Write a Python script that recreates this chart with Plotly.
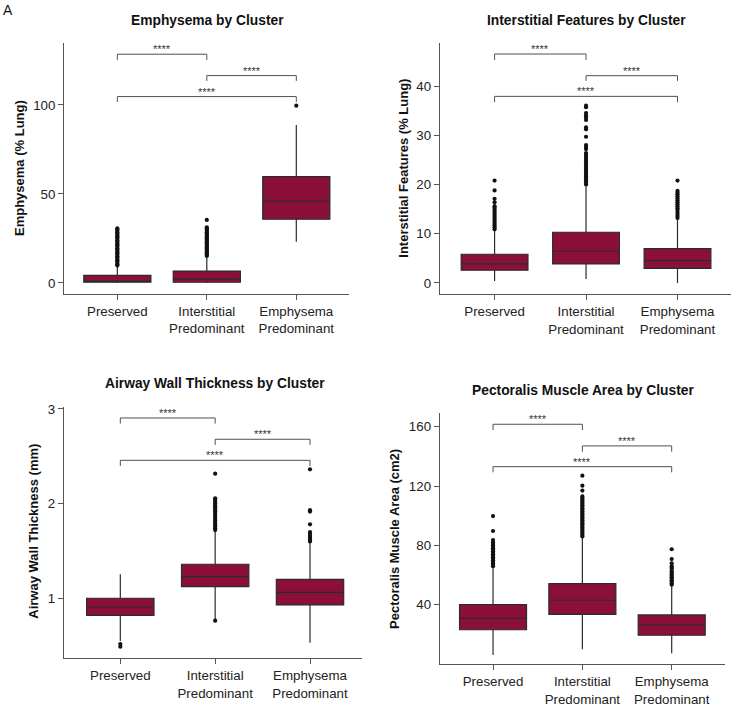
import plotly.graph_objects as go

# ---------------- data ----------------
categories = ["Preserved", "Interstitial<br>Predominant", "Emphysema<br>Predominant"]

titles = ["Emphysema by Cluster", "Interstitial Features by Cluster",
          "Airway Wall Thickness by Cluster", "Pectoralis Muscle Area by Cluster"]
ylabels = ["Emphysema (% Lung)", "Interstitial Features (% Lung)",
           "Airway Wall Thickness (mm)", "Pectoralis Muscle Area (cm2)"]

# Emphysema
emph_q1 = [0.4, 0.4, 35.8]
emph_med = [1.0, 2.1, 46.0]
emph_q3 = [4.3, 6.7, 59.7]
emph_lo = [0.0, 0.0, 23.2]
emph_hi = [9.3, 14.5, 88.8]
emph_out_pres = [9.8, 10.5, 11.2, 12.0, 12.8, 13.5, 14.3, 15.0, 15.8, 16.5, 17.3, 18.0,
                 18.8, 19.5, 20.3, 21.0, 21.8, 22.5, 23.3, 24.0, 24.8, 25.5, 26.3, 27.0,
                 27.8, 28.5, 29.3, 30.0, 30.7]
emph_out_int = [15.2, 15.9, 16.6, 17.3, 18.0, 18.7, 19.4, 20.1, 20.8, 21.5, 22.2, 22.9,
                23.6, 24.3, 25.0, 25.7, 26.4, 27.1, 27.8, 28.5, 29.2, 29.9, 30.6, 31.3, 35.4]
emph_out_emph = [99.6]

# Interstitial features
ild_q1 = [2.58, 3.86, 2.98]
ild_med = [3.86, 6.44, 4.53]
ild_q3 = [5.83, 10.3, 6.97]
ild_lo = [0.4, 0.8, 0.0]
ild_hi = [10.7, 19.8, 13.0]
ild_out_pres = [10.9, 11.3, 11.7, 12.1, 12.5, 12.9, 13.3, 13.7, 14.1, 14.5, 14.9, 15.3,
                15.6, 16.4, 17.1, 18.8, 20.8]
ild_out_int = [20.0, 20.4, 20.8, 21.2, 21.6, 22.0, 22.4, 22.8, 23.2, 23.6, 24.0, 24.4,
               24.8, 25.2, 25.6, 26.0, 26.4, 27.2, 27.6, 28.0, 29.7, 31.2, 31.6, 33.1,
               33.6, 34.0, 34.5, 35.7, 36.0]
ild_out_emph = [13.2, 13.6, 14.0, 14.4, 14.8, 15.2, 15.6, 16.0, 16.4, 16.8, 17.2, 17.6,
                18.0, 18.3, 18.7, 20.8]

# Airway wall thickness
awt_q1 = [0.82, 1.122, 0.93]
awt_med = [0.908, 1.228, 1.063]
awt_q3 = [1.0, 1.359, 1.20]
awt_lo = [0.55, 0.78, 0.531]
awt_hi = [1.253, 1.70, 1.59]
awt_out_pres = [0.489, 0.517]
awt_out_int = [0.763, 1.72, 1.74, 1.76, 1.78, 1.80, 1.82, 1.84, 1.86, 1.88, 1.90, 1.92,
               1.94, 1.96, 1.98, 2.00, 2.02, 2.04, 2.056, 2.316]
awt_out_emph = [1.60, 1.62, 1.64, 1.66, 1.68, 1.70, 1.781, 1.915, 1.93, 2.362]

# Pectoralis muscle area
pma_q1 = [23.1, 33.5, 19.4]
pma_med = [30.8, 43.0, 26.3]
pma_q3 = [40.0, 54.2, 33.1]
pma_lo = [6.1, 9.9, 7.2]
pma_hi = [65.0, 85.0, 52.5]
pma_out_pres = [66, 67, 68, 69, 70, 71, 72, 73, 74, 75, 76, 77, 78, 79, 80, 81, 82,
                83.6, 89.7, 99.8]
pma_out_int = [86, 87, 88, 89, 90, 91, 92, 93, 94, 95, 96, 97, 98, 99, 100, 101, 102,
               103, 104, 105, 106, 107, 108, 109, 110, 111, 112, 113, 117, 120.3, 127]
pma_out_emph = [53.5, 54.5, 55.5, 56.5, 57.5, 58.5, 59.5, 60.5, 61.5, 62.5, 64, 65, 66,
                67.9, 70.8, 77.4]

# significance brackets: pairs (0-1, 1-2, 0-2), bar height and tick end
pairs = [(0, 1), (1, 2), (0, 2)]
sig_label = "****"
emph_bar = [128.5, 116.5, 104.7]
emph_end = [125.3, 113.5, 101.7]
ild_bar = [46.5, 42.1, 37.9]
ild_end = [45.3, 41.05, 36.7]
awt_bar = [2.904, 2.679, 2.457]
awt_end = [2.844, 2.619, 2.397]
pma_bar = [161.7, 147.1, 133.1]
pma_end = [157.8, 143.2, 129.3]

# y axes
emph_ticks = [0, 50, 100]
ild_ticks = [0, 10, 20, 30, 40]
awt_ticks = [1, 2, 3]
pma_ticks = [40, 80, 120, 160]

# ---------------- styling / layout ----------------
W, H = 732, 706
FONT = "Liberation Sans, Arial, Helvetica, sans-serif"
FILL = "#8a1038"
LINE = "#2b2b2b"
AXC = "#555555"

panels = [
    dict(q1=emph_q1, med=emph_med, q3=emph_q3, lo=emph_lo, hi=emph_hi,
         outs=[emph_out_pres, emph_out_int, emph_out_emph], bar=emph_bar, end=emph_end,
         ticks=emph_ticks, yr=[-6.2, 134.8], xr=[-0.596, 2.589], bw=0.75,
         px=(64, 349), py=(43, 294), title_xy=(207, 20), ylab_xy=(19, 168)),
    dict(q1=ild_q1, med=ild_med, q3=ild_q3, lo=ild_lo, hi=ild_hi,
         outs=[ild_out_pres, ild_out_int, ild_out_emph], bar=ild_bar, end=ild_end,
         ticks=ild_ticks, yr=[-2.3, 48.8], xr=[-0.6, 2.585], bw=0.73,
         px=(439.7, 731), py=(42.7, 294.3), title_xy=(586, 20), ylab_xy=(402.7, 168)),
    dict(q1=awt_q1, med=awt_med, q3=awt_q3, lo=awt_lo, hi=awt_hi,
         outs=[awt_out_pres, awt_out_int, awt_out_emph], bar=awt_bar, end=awt_end,
         ticks=awt_ticks, yr=[0.366, 3.023], xr=[-0.597, 2.545], bw=0.71,
         px=(63.7, 361.7), py=(406.7, 658.3), title_xy=(215.3, 383.3), ylab_xy=(34, 531.7)),
    dict(q1=pma_q1, med=pma_med, q3=pma_q3, lo=pma_lo, hi=pma_hi,
         outs=[pma_out_pres, pma_out_int, pma_out_emph], bar=pma_bar, end=pma_end,
         ticks=pma_ticks, yr=[-0.2, 169.5], xr=[-0.597, 2.6], bw=0.75,
         px=(439.7, 725.3), py=(412.7, 664.3), title_xy=(582.7, 390), ylab_xy=(394, 539)),
]

fig = go.Figure()
annotations = []
layout = {}

for i, p in enumerate(panels):
    n = "" if i == 0 else str(i + 1)
    xa, ya = "x" + n, "y" + n
    fig.add_trace(go.Box(
        x=categories, q1=p["q1"], median=p["med"], q3=p["q3"],
        lowerfence=p["lo"], upperfence=p["hi"], width=p["bw"],
        fillcolor=FILL, line=dict(color=LINE, width=1.2), whiskerwidth=0,
        boxpoints=False, showlegend=False, hoverinfo="skip",
        xaxis=xa, yaxis=ya))
    for c, vals in zip(categories, p["outs"]):
        fig.add_trace(go.Scatter(
            x=[c] * len(vals), y=vals, mode="markers",
            marker=dict(color="#111111", size=4.2), showlegend=False,
            hoverinfo="skip", xaxis=xa, yaxis=ya))
    for (a, b), yb, ye in zip(pairs, p["bar"], p["end"]):
        fig.add_trace(go.Scatter(
            x=[categories[a], categories[a], categories[b], categories[b]],
            y=[ye, yb, yb, ye], mode="lines",
            line=dict(color="#505050", width=1), showlegend=False,
            hoverinfo="skip", xaxis=xa, yaxis=ya))
        annotations.append(dict(
            x=(a + b) / 2, y=yb, xref=xa, yref=ya, text=sig_label, showarrow=False,
            yanchor="bottom", yshift=-3, font=dict(family=FONT, size=11, color="#333333")))

    x0, x1 = p["px"]
    y0, y1 = p["py"]
    layout["xaxis" + n] = dict(
        domain=[x0 / W, x1 / W], anchor=ya, type="category",
        categoryorder="array", categoryarray=categories, range=p["xr"],
        showline=True, linecolor=AXC, linewidth=1, ticks="outside", ticklen=5,
        tickcolor=AXC, showgrid=False, zeroline=False, automargin=False,
        tickfont=dict(family=FONT, size=13.3, color="#222"))
    layout["yaxis" + n] = dict(
        domain=[1 - y1 / H, 1 - y0 / H], anchor=xa, range=p["yr"],
        tickvals=p["ticks"], showline=True, linecolor=AXC, linewidth=1,
        ticks="outside", ticklen=5, tickcolor=AXC, showgrid=False, zeroline=False,
        automargin=False, tickfont=dict(family=FONT, size=13.3, color="#222"))

    tx, ty = p["title_xy"]
    annotations.append(dict(
        x=tx / W, y=1 - ty / H, xref="paper", yref="paper", text="<b>" + titles[i] + "</b>",
        showarrow=False, xanchor="center", yanchor="middle",
        font=dict(family=FONT, size=13.8, color="#111")))
    lx, ly = p["ylab_xy"]
    annotations.append(dict(
        x=lx / W, y=1 - ly / H, xref="paper", yref="paper", text="<b>" + ylabels[i] + "</b>",
        showarrow=False, xanchor="center", yanchor="middle", textangle=-90,
        font=dict(family=FONT, size=13, color="#111")))

annotations.append(dict(
    x=1 / W, y=1 - 10 / H, xref="paper", yref="paper", text="A", showarrow=False,
    xanchor="left", yanchor="middle", font=dict(family=FONT, size=14, color="#111")))

fig.update_layout(
    width=W, height=H, margin=dict(l=0, r=0, t=0, b=0, autoexpand=False),
    paper_bgcolor="white", plot_bgcolor="white", hovermode=False,
    annotations=annotations, **layout)

fig.write_html("out.html", config={"displayModeBar": False},
               post_script="document.body.style.margin='0px';document.body.style.overflow='hidden';")
